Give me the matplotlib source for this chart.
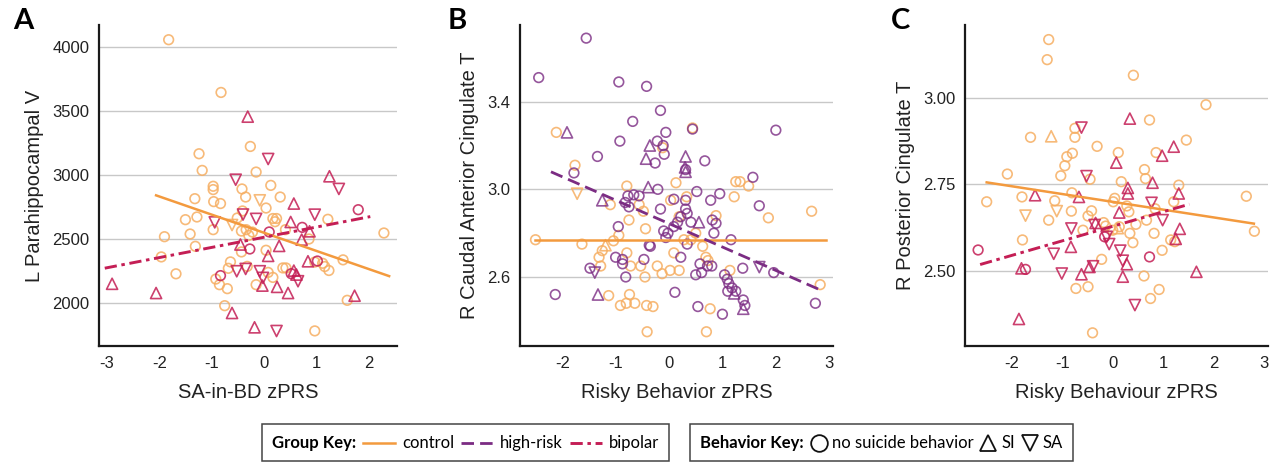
import matplotlib
matplotlib.use("Agg")
import matplotlib.pyplot as plt
from matplotlib.lines import Line2D
from matplotlib.patches import Rectangle

# ---- panel A : SA-in-BD zPRS vs L Parahippocampal V ----
a_ctrl_x = [-1.82, -0.82, -0.26, -1.24, -1.18, -0.15, -0.97, -0.97, -0.42, 0.13, -0.35, 0.31, -1.32, -0.96,
            -0.83, 0.04, -0.41, -0.51, -1.50, -1.28, -0.97, -1.41, -1.90, 0.17, 0.24, 0.21, -0.43, -0.22,
            -0.29, 0.41, 1.22, 2.29, 0.86, -1.31, 0.04, -0.43, -1.96, -0.64, -0.68, 0.36, 0.42, 0.97, 1.12,
            1.16, 1.24, 1.51, -1.68, -0.92, -0.85, 0.17, -0.70, -0.15, -0.75, 1.59, 0.97, -0.32, 0.08, -0.34]
a_ctrl_y = [4057, 3645, 3223, 3166, 3036, 3023, 2912, 2886, 2891, 2919, 2828, 2828, 2815, 2792,
            2777, 2742, 2719, 2664, 2651, 2672, 2573, 2539, 2518, 2660, 2660, 2635, 2562, 2554,
            2528, 2573, 2654, 2547, 2500, 2443, 2412, 2399, 2360, 2321, 2271, 2274, 2274, 2320, 2310,
            2285, 2254, 2337, 2228, 2187, 2143, 2200, 2112, 2143, 1979, 2021, 1782, 2286, 2239, 2573]
a_ctrl_sa_x = [-0.08, -0.61]
a_ctrl_sa_y = [2802, 2609]
a_bp_x = [1.80, 0.73, 0.10, -0.27, -0.83, 1.02, 0.52]
a_bp_y = [2729, 2591, 2555, 2422, 2214, 2328, 2229]
a_bp_si_x = [-0.31, -2.90, -2.06, -0.61, -0.18, 0.57, 1.25, 0.51, 0.72, 0.29, -0.45, 0.08, 0.84, -0.03,
             0.25, 0.46, 0.57, 0.62, 1.73, 0.87]
a_bp_si_y = [3456, 2150, 2078, 1922, 1810, 2777, 2990, 2633, 2495, 2446, 2457, 2368, 2326, 2136,
             2126, 2078, 2253, 2222, 2057, 2560]
a_bp_sa_x = [0.08, -0.54, 1.43, -0.40, -0.15, -0.94, 0.97, -0.52, -0.35, -0.08, -0.02, 0.65, 0.24]
a_bp_sa_y = [3125, 2963, 2891, 2691, 2657, 2630, 2690, 2248, 2266, 2248, 2196, 2170, 1781]
a_fit_ctrl_x, a_fit_ctrl_y = [-2.06, 2.39], [2841, 2210]
a_fit_bp_x, a_fit_bp_y = [-3.04, 2.03], [2272, 2675]

# ---- panel B : Risky Behavior zPRS vs R Caudal Anterior Cingulate T ----
b_hr_x = [-1.55, -2.44, -0.94, -0.42, -0.16, -0.68, 2.00, 0.44, -0.92, -0.06, -0.22, -0.11, -0.09, -1.34,
          -0.26, 0.67, 0.31, 1.57, -0.21, 0.52, 0.95, 0.78, 1.69, -0.77, -0.66, -0.56, -0.82, -0.75,
          0.09, 0.31, 0.31, -0.16, 0.34, 0.22, 0.16, 0.09, 0.41, -0.95, -0.10, -0.02, -0.06, 0.81,
          0.88, 0.84, 1.16, -0.37, -0.35, 0.34, -1.00, -0.87, -0.87, -0.47, 0.22, -1.48, -0.81, 0.58,
          0.72, 0.80, 0.50, 0.61, 1.38, 1.04, 1.09, 1.12, 1.18, 1.10, 1.25, 1.96, -2.13, 0.11, 1.39,
          1.42, 0.54, 1.00, 2.74, -1.78]
b_hr_y = [3.69, 3.51, 3.49, 3.47, 3.36, 3.31, 3.27, 3.275, 3.22, 3.26, 3.22, 3.20, 3.16, 3.15,
          3.12, 3.13, 3.09, 3.055, 3.00, 2.99, 2.98, 2.95, 2.925, 2.97, 2.975, 2.97, 2.94, 2.92,
          2.955, 2.95, 2.91, 2.91, 2.89, 2.875, 2.85, 2.83, 2.85, 2.83, 2.81, 2.80, 2.78, 2.86,
          2.845, 2.80, 2.77, 2.745, 2.74, 2.75, 2.69, 2.68, 2.66, 2.68, 2.69, 2.64, 2.60, 2.66,
          2.65, 2.65, 2.61, 2.62, 2.64, 2.61, 2.59, 2.57, 2.55, 2.535, 2.535, 2.62, 2.52, 2.53, 2.495,
          2.47, 2.465, 2.43, 2.48, 3.075]
b_hr_si_x = [-1.91, -0.36, -0.43, 0.31, 0.30, 0.31, -0.39, -1.25, 0.56, -1.33, 1.22, 1.39]
b_hr_si_y = [3.26, 3.20, 3.14, 3.15, 3.10, 3.08, 3.01, 2.95, 2.85, 2.52, 2.525, 2.455]
b_hr_sa_x = [-1.39, 1.69]
b_hr_sa_y = [2.62, 2.645]
b_ctrl_x = [-2.11, -1.76, -2.50, -1.63, -1.10, -0.79, -0.56, -0.48, -0.75, -0.44, -0.94, -1.04, -0.12,
            0.13, 0.03, 0.19, 0.28, 0.41, 0.50, 0.33, 0.88, 1.25, 1.33, 1.49, 1.22, 1.86, 2.67, 2.83,
            -1.31, -1.25, -1.28, -0.79, -0.72, -0.53, -0.45, -0.22, -0.13, 0.02, 0.19, 0.09, 0.63, 0.69,
            0.73, 1.14, -1.13, -0.74, -0.91, -0.80, -0.64, -0.42, -0.30, 0.77, -0.41, 0.70, 0.44]
b_ctrl_y = [3.26, 3.11, 2.77, 2.75, 2.93, 3.015, 2.93, 2.90, 2.86, 2.82, 2.79, 2.765, 3.19,
            3.03, 2.95, 2.875, 2.77, 2.77, 2.80, 2.966, 2.88, 3.035, 3.035, 3.015, 2.966, 2.87, 2.90, 2.565,
            2.69, 2.72, 2.65, 2.71, 2.65, 2.65, 2.60, 2.65, 2.615, 2.63, 2.63, 2.71, 2.74, 2.69,
            2.675, 2.63, 2.515, 2.52, 2.47, 2.48, 2.48, 2.47, 2.465, 2.455, 2.35, 2.35, 3.28]
b_ctrl_si_x, b_ctrl_si_y = [-1.19], [2.745]
b_ctrl_sa_x, b_ctrl_sa_y = [-1.72], [2.98]
b_fit_ctrl_x, b_fit_ctrl_y = [-2.50, 2.94], [2.77, 2.77]
b_fit_hr_x, b_fit_hr_y = [-2.21, 2.84], [3.08, 2.54]

# ---- panel C : Risky Behaviour zPRS vs R Posterior Cingulate T ----
c_ctrl_x = [-1.27, -1.30, 0.41, 1.85, 0.73, -1.63, -0.75, -0.75, -0.31, 0.11, 0.86, 1.46, -0.91, -0.95,
            -0.80, -1.03, -2.09, -0.45, 0.63, 0.65, 0.17, 1.31, 2.65, -2.50, -1.80, -0.81, -1.15, -0.82,
            -0.42, 0.04, 0.01, 0.28, 0.32, -1.27, -0.49, -0.18, -0.14, 0.13, 0.46, 0.67, 0.84, 1.21,
            -0.59, 0.34, 0.82, 2.81, -1.79, 0.40, 1.15, 1.23, 0.98, -0.22, 0.62, -0.73, -0.49, 0.92,
            0.75, -0.40, 0.00]
c_ctrl_y = [3.168, 3.11, 3.065, 2.98, 2.936, 2.886, 2.912, 2.886, 2.86, 2.842, 2.842, 2.878, 2.83, 2.804,
            2.84, 2.775, 2.78, 2.765, 2.793, 2.767, 2.758, 2.748, 2.716, 2.70, 2.714, 2.726, 2.703, 2.673,
            2.674, 2.71, 2.70, 2.688, 2.671, 2.647, 2.659, 2.64, 2.63, 2.628, 2.635, 2.647, 2.68, 2.70,
            2.618, 2.609, 2.609, 2.615, 2.59, 2.582, 2.59, 2.585, 2.56, 2.534, 2.486, 2.45, 2.455, 2.447,
            2.421, 2.322, 2.618]
c_ctrl_si_x, c_ctrl_si_y = [-1.22, 0.10], [2.889, 2.624]
c_ctrl_sa_x, c_ctrl_sa_y = [-1.73, -1.11], [2.66, 2.673]
c_bp_x = [-2.67, -1.73, 0.73, -0.16]
c_bp_y = [2.561, 2.505, 2.541, 2.599]
c_bp_si_x = [0.34, 0.07, 0.98, 1.21, 0.79, 0.30, 0.30, -0.67, -1.54, 1.31, 0.13, -0.34, 1.33, 1.25,
             -0.83, 0.28, 0.20, -0.62, -0.46, -1.81, 1.66, -1.86]
c_bp_si_y = [2.94, 2.813, 2.833, 2.859, 2.755, 2.74, 2.724, 2.714, 2.719, 2.724, 2.669, 2.639, 2.622, 2.593,
             2.57, 2.52, 2.484, 2.491, 2.512, 2.508, 2.498, 2.362]
c_bp_sa_x = [-0.62, -0.52, 0.77, 0.99, -0.82, -0.36, -0.07, -0.12, -1.17, 0.15, 0.20, -1.01, -0.39, 0.44]
c_bp_sa_y = [2.914, 2.774, 2.697, 2.647, 2.623, 2.633, 2.578, 2.599, 2.55, 2.559, 2.53, 2.493, 2.514, 2.402]
c_fit_ctrl_x, c_fit_ctrl_y = [-2.50, 2.80], [2.756, 2.637]
c_fit_bp_x, c_fit_bp_y = [-2.63, 1.52], [2.519, 2.693]

CTRL_PT = "#F6AE62"
CTRL_LN = "#F39A3E"
HR = "#7B2C83"
BP = "#C41E55"
FIT_STYLE = {
    "control": dict(color=CTRL_LN, ls="-", lw=1.8),
    "high-risk": dict(color=HR, ls=(0, (4.5, 2.2)), lw=2.0),
    "bipolar": dict(color=BP, ls=(0, (4.2, 1.6, 1.2, 1.6)), lw=2.1),
}
MARK = {"none": ("o", 48), "SI": ("^", 64), "SA": ("v", 64)}

W, H = 1276, 466
fig = plt.figure(figsize=(W / 100, H / 100), dpi=100)
plt.rcParams["font.family"] = ["Liberation Sans", "DejaVu Sans"]


def px_axes(x0, x1, y0, y1):
    return fig.add_axes([x0 / W, 1 - y1 / H, (x1 - x0) / W, (y1 - y0) / H])


def style_axes(ax, xlim, ylim, xticks, yticks, ylabels, xlabel, ylabel):
    ax.set_xlim(*xlim)
    ax.set_ylim(*ylim)
    ax.set_xticks(xticks)
    ax.set_xticklabels([str(t) for t in xticks])
    ax.set_yticks(yticks)
    ax.set_yticklabels(ylabels)
    ax.tick_params(length=0, labelsize=12, pad=7, colors="#222222")
    for s in ("top", "right"):
        ax.spines[s].set_visible(False)
    for s in ("left", "bottom"):
        ax.spines[s].set_color("#1a1a1a")
        ax.spines[s].set_linewidth(1.6)
    ax.grid(axis="y", color="#c8c8c8", lw=1)
    ax.set_axisbelow(True)
    ax.set_xlabel(xlabel, fontsize=14.5, color="#222222", labelpad=9)
    ax.set_ylabel(ylabel, fontsize=14.5, color="#222222", labelpad=6)


def pts(ax, x, y, beh, color, alpha):
    m, s = MARK[beh]
    ax.scatter(x, y, marker=m, s=s, facecolors="none", edgecolors=color, linewidths=1.2, alpha=alpha, zorder=3)


def fit(ax, x, y, group):
    ax.plot(x, y, zorder=4, **FIT_STYLE[group])


# Panel A
axA = px_axes(99, 397, 25, 346)
style_axes(axA, (-3.15, 2.54), (1664, 4172), [-3, -2, -1, 0, 1, 2], [2000, 2500, 3000, 3500, 4000],
           ["2000", "2500", "3000", "3500", "4000"], "SA-in-BD zPRS", "L Parahippocampal V")
pts(axA, a_ctrl_x, a_ctrl_y, "none", CTRL_PT, 0.85)
pts(axA, a_ctrl_sa_x, a_ctrl_sa_y, "SA", CTRL_PT, 0.85)
pts(axA, a_bp_x, a_bp_y, "none", BP, 0.85)
pts(axA, a_bp_si_x, a_bp_si_y, "SI", BP, 0.85)
pts(axA, a_bp_sa_x, a_bp_sa_y, "SA", BP, 0.85)
fit(axA, a_fit_ctrl_x, a_fit_ctrl_y, "control")
fit(axA, a_fit_bp_x, a_fit_bp_y, "bipolar")

# Panel B
axB = px_axes(520, 833, 25, 346)
style_axes(axB, (-2.79, 3.07), (2.285, 3.75), [-2, -1, 0, 1, 2, 3], [2.6, 3.0, 3.4],
           ["2.6", "3.0", "3.4"], "Risky Behavior zPRS", "R Caudal Anterior Cingulate T")
pts(axB, b_ctrl_x, b_ctrl_y, "none", CTRL_PT, 0.85)
pts(axB, b_ctrl_si_x, b_ctrl_si_y, "SI", CTRL_PT, 0.85)
pts(axB, b_ctrl_sa_x, b_ctrl_sa_y, "SA", CTRL_PT, 0.85)
pts(axB, b_hr_x, b_hr_y, "none", HR, 0.8)
pts(axB, b_hr_si_x, b_hr_si_y, "SI", HR, 0.8)
pts(axB, b_hr_sa_x, b_hr_sa_y, "SA", HR, 0.8)
fit(axB, b_fit_ctrl_x, b_fit_ctrl_y, "control")
fit(axB, b_fit_hr_x, b_fit_hr_y, "high-risk")

# Panel C
axC = px_axes(965, 1268, 25, 346)
style_axes(axC, (-2.93, 3.08), (2.284, 3.21), [-2, -1, 0, 1, 2, 3], [2.50, 2.75, 3.00],
           ["2.50", "2.75", "3.00"], "Risky Behaviour zPRS", "R Posterior Cingulate T")
pts(axC, c_ctrl_x, c_ctrl_y, "none", CTRL_PT, 0.85)
pts(axC, c_ctrl_si_x, c_ctrl_si_y, "SI", CTRL_PT, 0.85)
pts(axC, c_ctrl_sa_x, c_ctrl_sa_y, "SA", CTRL_PT, 0.85)
pts(axC, c_bp_x, c_bp_y, "none", BP, 0.85)
pts(axC, c_bp_si_x, c_bp_si_y, "SI", BP, 0.85)
pts(axC, c_bp_sa_x, c_bp_sa_y, "SA", BP, 0.85)
fit(axC, c_fit_ctrl_x, c_fit_ctrl_y, "control")
fit(axC, c_fit_bp_x, c_fit_bp_y, "bipolar")

# panel letters
for letter, x in (("A", 13), ("B", 448), ("C", 891)):
    fig.text(x / W, 1 - 21 / H, letter, fontsize=21, fontweight="bold", family="Lato", va="center", ha="left")

# keys along the bottom
renderer = fig.canvas.get_renderer()


def key_box(items, x_left, yc, gap=7, size=12):
    x = x_left + 10
    for kind, val in items:
        if kind == "text":
            label, bold = val
            t = fig.text(x / W, 1 - yc / H, label, fontsize=size, family="Lato",
                         fontweight="bold" if bold else "normal", va="center", ha="left")
            x += t.get_window_extent(renderer).width + gap
        elif kind == "line":
            fig.add_artist(Line2D([x / W, (x + 32) / W], [1 - yc / H] * 2, transform=fig.transFigure,
                                  **FIT_STYLE[val]))
            x += 32 + gap
        else:
            fig.add_artist(Line2D([(x + 8) / W], [1 - yc / H], transform=fig.transFigure, marker=val,
                                  ms=12, mfc="none", mec="#111111", mew=1.3, ls="none"))
            x += 16 + gap - 2
    right = x - gap + 10
    fig.add_artist(Rectangle((x_left / W, 1 - (yc + 18) / H), (right - x_left) / W, 37 / H, fill=False,
                             ec="#444444", lw=1.1, transform=fig.transFigure))


key_box([("text", ("Group Key:", True)), ("line", "control"), ("text", ("control", False)),
         ("line", "high-risk"), ("text", ("high-risk", False)), ("line", "bipolar"),
         ("text", ("bipolar", False))], 262, 443)
key_box([("text", ("Behavior Key:", True)), ("marker", "o"), ("text", ("no suicide behavior", False)),
         ("marker", "^"), ("text", ("SI", False)), ("marker", "v"), ("text", ("SA", False))], 690, 443)

fig.savefig("out.png", dpi=100)
